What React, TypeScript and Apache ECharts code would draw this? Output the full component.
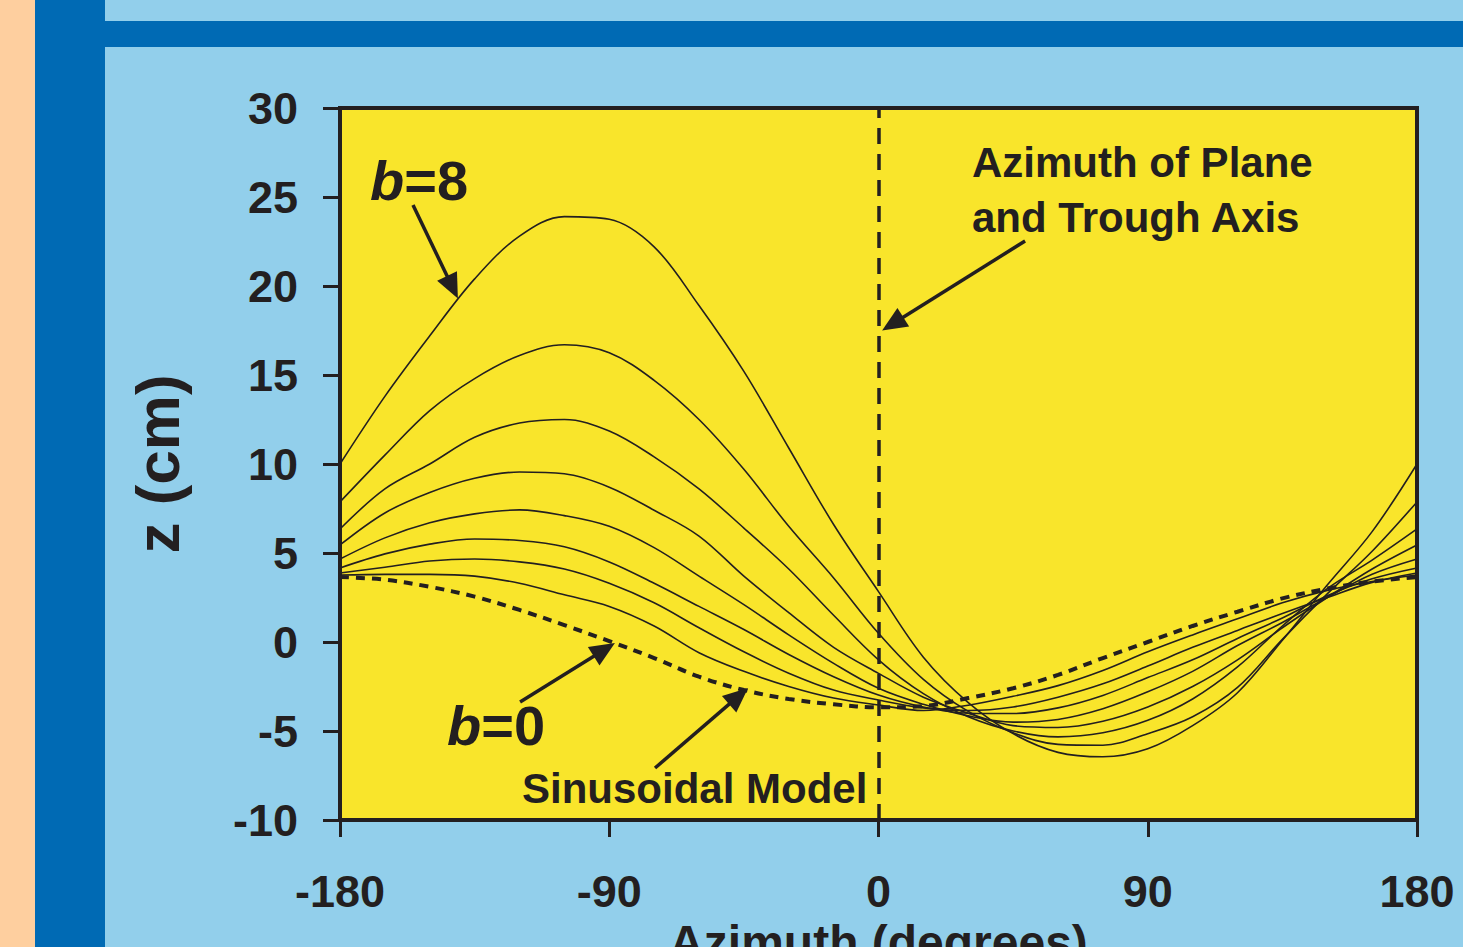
import React, { useEffect, useRef } from "react";
import * as echarts from "echarts";

// Azimuth (degrees), sampled every 15 degrees
const azimuth = [-180, -165, -150, -135, -120, -105, -90, -75, -60, -45, -30, -15, 0, 15, 30, 45, 60, 75, 90, 105, 120, 135, 150, 165, 180];

// z (cm) for each b value
const b0 = [3.65, 3.5, 3.1, 2.55, 1.8, 0.95, 0.05, -0.9, -1.95, -2.7, -3.2, -3.5, -3.67, -3.6, -3.15, -2.6, -1.85, -0.9, 0.0, 0.9, 1.7, 2.45, 3.0, 3.4, 3.65];
const b1 = [3.76, 3.8, 3.8, 3.7, 3.3, 2.65, 2.0, 0.9, -0.6, -1.65, -2.5, -3.15, -3.54, -3.85, -3.55, -3.05, -2.45, -1.6, -0.55, 0.4, 1.3, 2.2, 2.9, 3.4, 3.76];
const b2 = [3.88, 4.2, 4.55, 4.66, 4.5, 4.1, 3.3, 2.2, 0.8, -0.55, -1.75, -2.7, -3.26, -3.7, -3.85, -3.65, -3.1, -2.35, -1.35, -0.3, 0.65, 1.6, 2.5, 3.35, 3.88];
const b3 = [4.16, 4.95, 5.5, 5.79, 5.7, 5.35, 4.5, 3.3, 2.0, 0.7, -0.7, -1.95, -2.98, -3.65, -4.0, -4.02, -3.7, -3.0, -2.0, -1.0, 0.2, 1.35, 2.6, 3.55, 4.16];
const b4 = [4.66, 5.85, 6.7, 7.2, 7.42, 7.1, 6.5, 5.3, 3.7, 2.1, 0.4, -1.2, -2.6, -3.5, -4.15, -4.5, -4.35, -3.75, -2.8, -1.65, -0.2, 1.1, 2.5, 3.8, 4.66];
const b5 = [5.45, 7.25, 8.4, 9.2, 9.55, 9.45, 8.7, 7.4, 5.95, 3.7, 1.65, -0.3, -1.76, -3.1, -4.0, -4.7, -4.8, -4.45, -3.65, -2.5, -1.0, 0.8, 2.5, 4.1, 5.45];
const b6 = [6.35, 8.6, 10.0, 11.5, 12.3, 12.5, 11.85, 10.4, 8.6, 6.4, 4.1, 1.5, -1.0, -2.9, -4.2, -5.0, -5.33, -5.1, -4.4, -3.2, -1.4, 0.9, 3.0, 4.6, 6.35];
const b7 = [7.87, 10.5, 13.0, 14.8, 16.1, 16.7, 16.25, 14.7, 12.5, 9.7, 6.5, 3.6, 0.49, -2.1, -3.9, -5.1, -5.75, -5.8, -5.15, -4.2, -2.55, 0.15, 2.7, 5.1, 7.87];
const b8 = [10.0, 13.8, 17.2, 20.4, 22.8, 23.9, 23.75, 22.2, 18.9, 15.2, 10.9, 6.6, 2.83, -0.85, -3.4, -5.15, -6.2, -6.45, -6.0, -4.7, -2.85, 0.1, 3.2, 6.2, 10.0];

const curves = [b0, b1, b2, b3, b4, b5, b6, b7, b8];

// Axis ticks
const xTicks = { min: -180, max: 180, interval: 90 };
const yTicks = { min: -10, max: 30, interval: 5 };

// Annotation arrows in data coordinates: [from, to]
const arrows: [number, number][][] = [
  [[-155.6, 24.55], [-140.6, 19.3]],   // b=8
  [[-119.8, -3.37], [-88.1, -0.06]],   // b=0
  [[-74.7, -7.08], [-43.6, -2.58]],    // Sinusoidal Model
  [[49.0, 22.53], [1.2, 17.5]],        // Azimuth of Plane and Trough Axis
];

const INK = "#231f20";
const FONT = "'Liberation Sans', Arial, Helvetica, sans-serif";
const YELLOW = "#f9e52b";
const LIGHTBLUE = "#92cfeb";
const DARKBLUE = "#006ab4";
const ORANGE = "#fecf9f";

export default function App() {
  const ref = useRef<HTMLDivElement>(null);

  useEffect(() => {
    const chart = echarts.init(ref.current!, null, { renderer: "svg" });

    const series: any[] = curves.map((vals, i) => ({
      type: "line",
      name: `b=${i}`,
      data: azimuth.map((a, j) => [a, vals[j]]),
      showSymbol: false,
      smooth: 0.35,
      silent: true,
      z: i === 0 ? 4 : 3,
      lineStyle:
        i === 0
          ? { color: INK, width: 4, type: [9, 7] }
          : { color: INK, width: 1.6 },
    }));

    series[8].markLine = {
      silent: true,
      symbol: ["none", "none"],
      label: { show: false },
      lineStyle: { color: INK, width: 3.5, type: [16, 10] },
      data: [{ xAxis: 0 }],
    };

    chart.setOption({
      animation: false,
      backgroundColor: LIGHTBLUE,
      grid: {
        left: 340,
        right: 46,
        top: 108,
        bottom: 127,
        containLabel: false,
        outerBoundsMode: "none",
        show: true,
        backgroundColor: YELLOW,
        borderColor: INK,
        borderWidth: 4,
      },
      xAxis: {
        type: "value",
        ...xTicks,
        name: "Azimuth (degrees)",
        nameLocation: "middle",
        nameGap: 98,
        nameTextStyle: { fontSize: 48, fontWeight: "bold", color: INK, fontFamily: FONT },
        axisLine: { onZero: false, lineStyle: { color: INK, width: 4 } },
        axisTick: { inside: false, length: 17, lineStyle: { color: INK, width: 3 } },
        axisLabel: { fontSize: 45, fontWeight: "bold", color: INK, fontFamily: FONT, margin: 49 },
        splitLine: { show: false },
      },
      yAxis: {
        type: "value",
        ...yTicks,
        name: "z (cm)",
        nameLocation: "middle",
        nameGap: 152,
        nameRotate: 90,
        nameTextStyle: { fontSize: 62, fontWeight: "bold", color: INK, fontFamily: FONT },
        axisLine: { onZero: false, lineStyle: { color: INK, width: 4 } },
        axisTick: { inside: false, length: 17, lineStyle: { color: INK, width: 3 } },
        axisLabel: { fontSize: 45, fontWeight: "bold", color: INK, fontFamily: FONT, margin: 42 },
        splitLine: { show: false },
      },
      series,
    });

    const px = (p: number[]) => chart.convertToPixel({ gridIndex: 0 }, p) as number[];

    const arrowGraphics: any[] = [];
    arrows.forEach(([from, to]) => {
      const a = px(from);
      const b = px(to);
      const dx = b[0] - a[0];
      const dy = b[1] - a[1];
      const len = Math.hypot(dx, dy);
      const ux = dx / len;
      const uy = dy / len;
      const headLen = 25;
      const headHalf = 11;
      const base = [b[0] - ux * headLen, b[1] - uy * headLen];
      arrowGraphics.push({
        type: "line",
        silent: true,
        z: 50,
        shape: { x1: a[0], y1: a[1], x2: base[0] + ux * 2, y2: base[1] + uy * 2 },
        style: { stroke: INK, lineWidth: 3.5 },
      });
      arrowGraphics.push({
        type: "polygon",
        silent: true,
        z: 50,
        shape: {
          points: [
            [b[0], b[1]],
            [base[0] - uy * headHalf, base[1] + ux * headHalf],
            [base[0] + uy * headHalf, base[1] - ux * headHalf],
          ],
        },
        style: { fill: INK },
      });
    });

    const textStyle = (size: number) => ({
      fontSize: size,
      fontWeight: "bold",
      fontFamily: FONT,
      fill: INK,
    });

    const bLabel = (n: string, x: number, y: number) => ({
      type: "text",
      silent: true,
      z: 50,
      x,
      y,
      style: {
        text: `{i|b}{n|=${n}}`,
        verticalAlign: "middle",
        ...textStyle(56),
        rich: {
          i: { ...textStyle(56), fontStyle: "italic" },
          n: { ...textStyle(56) },
        },
      },
    });

    chart.setOption({
      graphic: [
        { type: "rect", silent: true, z: 0, shape: { x: 0, y: 0, width: 35, height: 947 }, style: { fill: ORANGE } },
        { type: "rect", silent: true, z: 0, shape: { x: 35, y: 0, width: 70, height: 947 }, style: { fill: DARKBLUE } },
        { type: "rect", silent: true, z: 0, shape: { x: 105, y: 21, width: 1358, height: 26 }, style: { fill: DARKBLUE } },
        bLabel("8", 370, 180),
        bLabel("0", 447, 725),
        {
          type: "text", silent: true, z: 50, x: 522, y: 788,
          style: { text: "Sinusoidal Model", verticalAlign: "middle", ...textStyle(42) },
        },
        {
          type: "text", silent: true, z: 50, x: 972, y: 162,
          style: { text: "Azimuth of Plane", verticalAlign: "middle", ...textStyle(42) },
        },
        {
          type: "text", silent: true, z: 50, x: 972, y: 217,
          style: { text: "and Trough Axis", verticalAlign: "middle", ...textStyle(42) },
        },
        ...arrowGraphics,
      ],
    });

    return () => chart.dispose();
  }, []);

  return (
    <div
      ref={ref}
      style={{ position: "fixed", left: 0, top: 0, width: 1463, height: 947 }}
    />
  );
}
